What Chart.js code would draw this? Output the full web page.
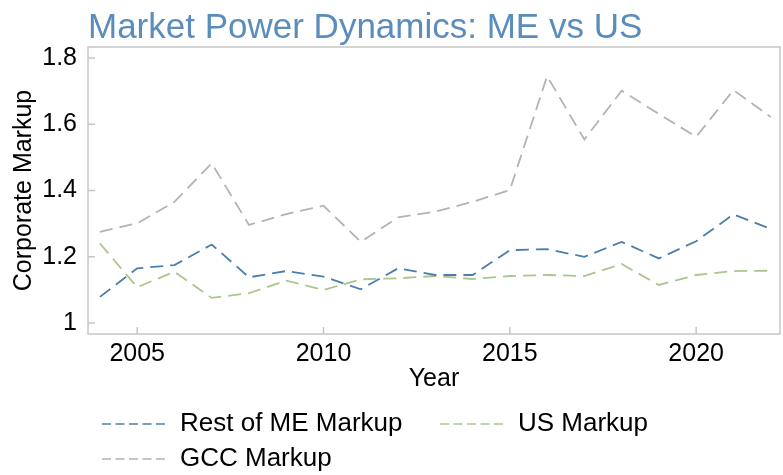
<!DOCTYPE html>
<html><head><meta charset="utf-8">
<script src="https://cdn.jsdelivr.net/npm/chart.js@4.4.1/dist/chart.umd.min.js"></script>
<style>html,body{margin:0;padding:0;background:#fff;}#wrap{width:783px;height:475px;}</style>
</head><body><div id="wrap"><canvas id="c" width="783" height="475"></canvas></div>
<script>
const years = [2004,2005,2006,2007,2008,2009,2010,2011,2012,2013,2014,2015,2016,2017,2018,2019,2020,2021,2022];
const restME = [1.079,1.165,1.175,1.237,1.138,1.157,1.140,1.102,1.165,1.145,1.145,1.220,1.223,1.200,1.245,1.195,1.247,1.328,1.284];
const usMarkup = [1.240,1.108,1.155,1.076,1.090,1.128,1.100,1.132,1.135,1.142,1.133,1.142,1.145,1.142,1.178,1.115,1.145,1.157,1.158];
const gccMarkup = [1.275,1.301,1.366,1.482,1.296,1.329,1.354,1.245,1.319,1.336,1.366,1.401,1.745,1.554,1.701,1.631,1.562,1.703,1.622];
const seriesNames = ['Rest of ME Markup','US Markup','GCC Markup'];
const xTicks = [2005,2010,2015,2020];
const xTickLabels = ['2005','2010','2015','2020'];
const yTicks = [1,1.2,1.4,1.6,1.8];
const yTickLabels = ['1','1.2','1.4','1.6','1.8'];

const FONT = '"Liberation Sans", Arial, sans-serif';
Chart.defaults.font.family = FONT;
Chart.defaults.color = '#000';

const colors = ['#4b7fab', '#a9c68c', '#b3b3b3'];
const toPts = arr => years.map((y, i) => ({x: y, y: arr[i]}));

const framePlugin = {
  id: 'frame',
  afterDatasetsDraw(chart) {
    const {ctx, chartArea: a, scales} = chart;
    ctx.save();
    ctx.strokeStyle = '#c6c6c6';
    ctx.lineWidth = 1.5;
    ctx.strokeRect(a.left, a.top, a.right - a.left, a.bottom - a.top);
    ctx.beginPath();
    scales.x.ticks.forEach(t => {
      const px = scales.x.getPixelForValue(t.value);
      ctx.moveTo(px, a.bottom); ctx.lineTo(px, a.bottom - 7);
    });
    scales.y.ticks.forEach(t => {
      const py = scales.y.getPixelForValue(t.value);
      ctx.moveTo(a.left, py); ctx.lineTo(a.left + 7, py);
    });
    ctx.stroke();
    ctx.restore();
  }
};

const legendPlugin = {
  id: 'customLegend',
  afterDraw(chart) {
    const {ctx} = chart;
    const slots = [{x: 102, y: 424}, {x: 440, y: 424}, {x: 102, y: 459}];
    ctx.save();
    ctx.font = '26px ' + FONT;
    ctx.textBaseline = 'middle';
    ctx.textAlign = 'left';
    chart.data.datasets.forEach((ds, i) => {
      const s = slots[i];
      ctx.strokeStyle = ds.borderColor;
      ctx.lineWidth = 1.7;
      ctx.setLineDash([9, 4.5]);
      ctx.beginPath();
      ctx.moveTo(s.x, s.y); ctx.lineTo(s.x + 65, s.y);
      ctx.stroke();
      ctx.setLineDash([]);
      ctx.fillStyle = '#000';
      ctx.fillText(ds.label, s.x + 78, s.y);
    });
    ctx.restore();
  }
};

new Chart(document.getElementById('c'), {
  type: 'line',
  data: {
    datasets: [
      {label: seriesNames[0], data: toPts(restME), borderColor: colors[0]},
      {label: seriesNames[1], data: toPts(usMarkup), borderColor: colors[1]},
      {label: seriesNames[2], data: toPts(gccMarkup), borderColor: colors[2]}
    ].map(d => Object.assign(d, {borderWidth: 1.8, borderDash: [13, 7], pointRadius: 0, tension: 0, fill: false}))
  },
  options: {
    responsive: false,
    animation: false,
    devicePixelRatio: 1,
    layout: {padding: {left: 0, right: 3, top: 0, bottom: 83}},
    plugins: {
      legend: {display: false},
      tooltip: {enabled: false},
      title: {
        display: true, text: 'Market Power Dynamics: ME vs US', align: 'start', fullSize: false,
        color: '#5a8dbb', font: {size: 35, weight: 'normal', lineHeight: 1.0},
        padding: {top: 11, bottom: 1}
      }
    },
    scales: {
      x: {
        type: 'linear', min: 2003.68, max: 2022.25,
        grid: {display: false, drawTicks: false}, border: {display: false},
        afterBuildTicks: s => { s.ticks = xTicks.map(v => ({value: v})); },
        afterFit: s => { s.height = 58; },
        ticks: {font: {size: 25, lineHeight: 1.0}, padding: 8, maxRotation: 0, autoSkip: false,
          callback: v => xTickLabels[xTicks.indexOf(v)]},
        title: {display: true, text: 'Year', font: {size: 25, lineHeight: 1.0}, padding: {top: 0, bottom: 0}}
      },
      y: {
        type: 'linear', min: 0.967, max: 1.833,
        grid: {display: false, drawTicks: false}, border: {display: false},
        afterBuildTicks: s => { s.ticks = yTicks.map(v => ({value: v})); },
        afterFit: s => { s.width = 88; },
        ticks: {font: {size: 25, lineHeight: 1.0}, padding: 11,
          callback: v => yTickLabels[yTicks.indexOf(v)]},
        title: {display: true, text: 'Corporate Markup', font: {size: 25, lineHeight: 1.2}, padding: {top: 9, bottom: 0}}
      }
    }
  },
  plugins: [framePlugin, legendPlugin]
});
</script></body></html>
